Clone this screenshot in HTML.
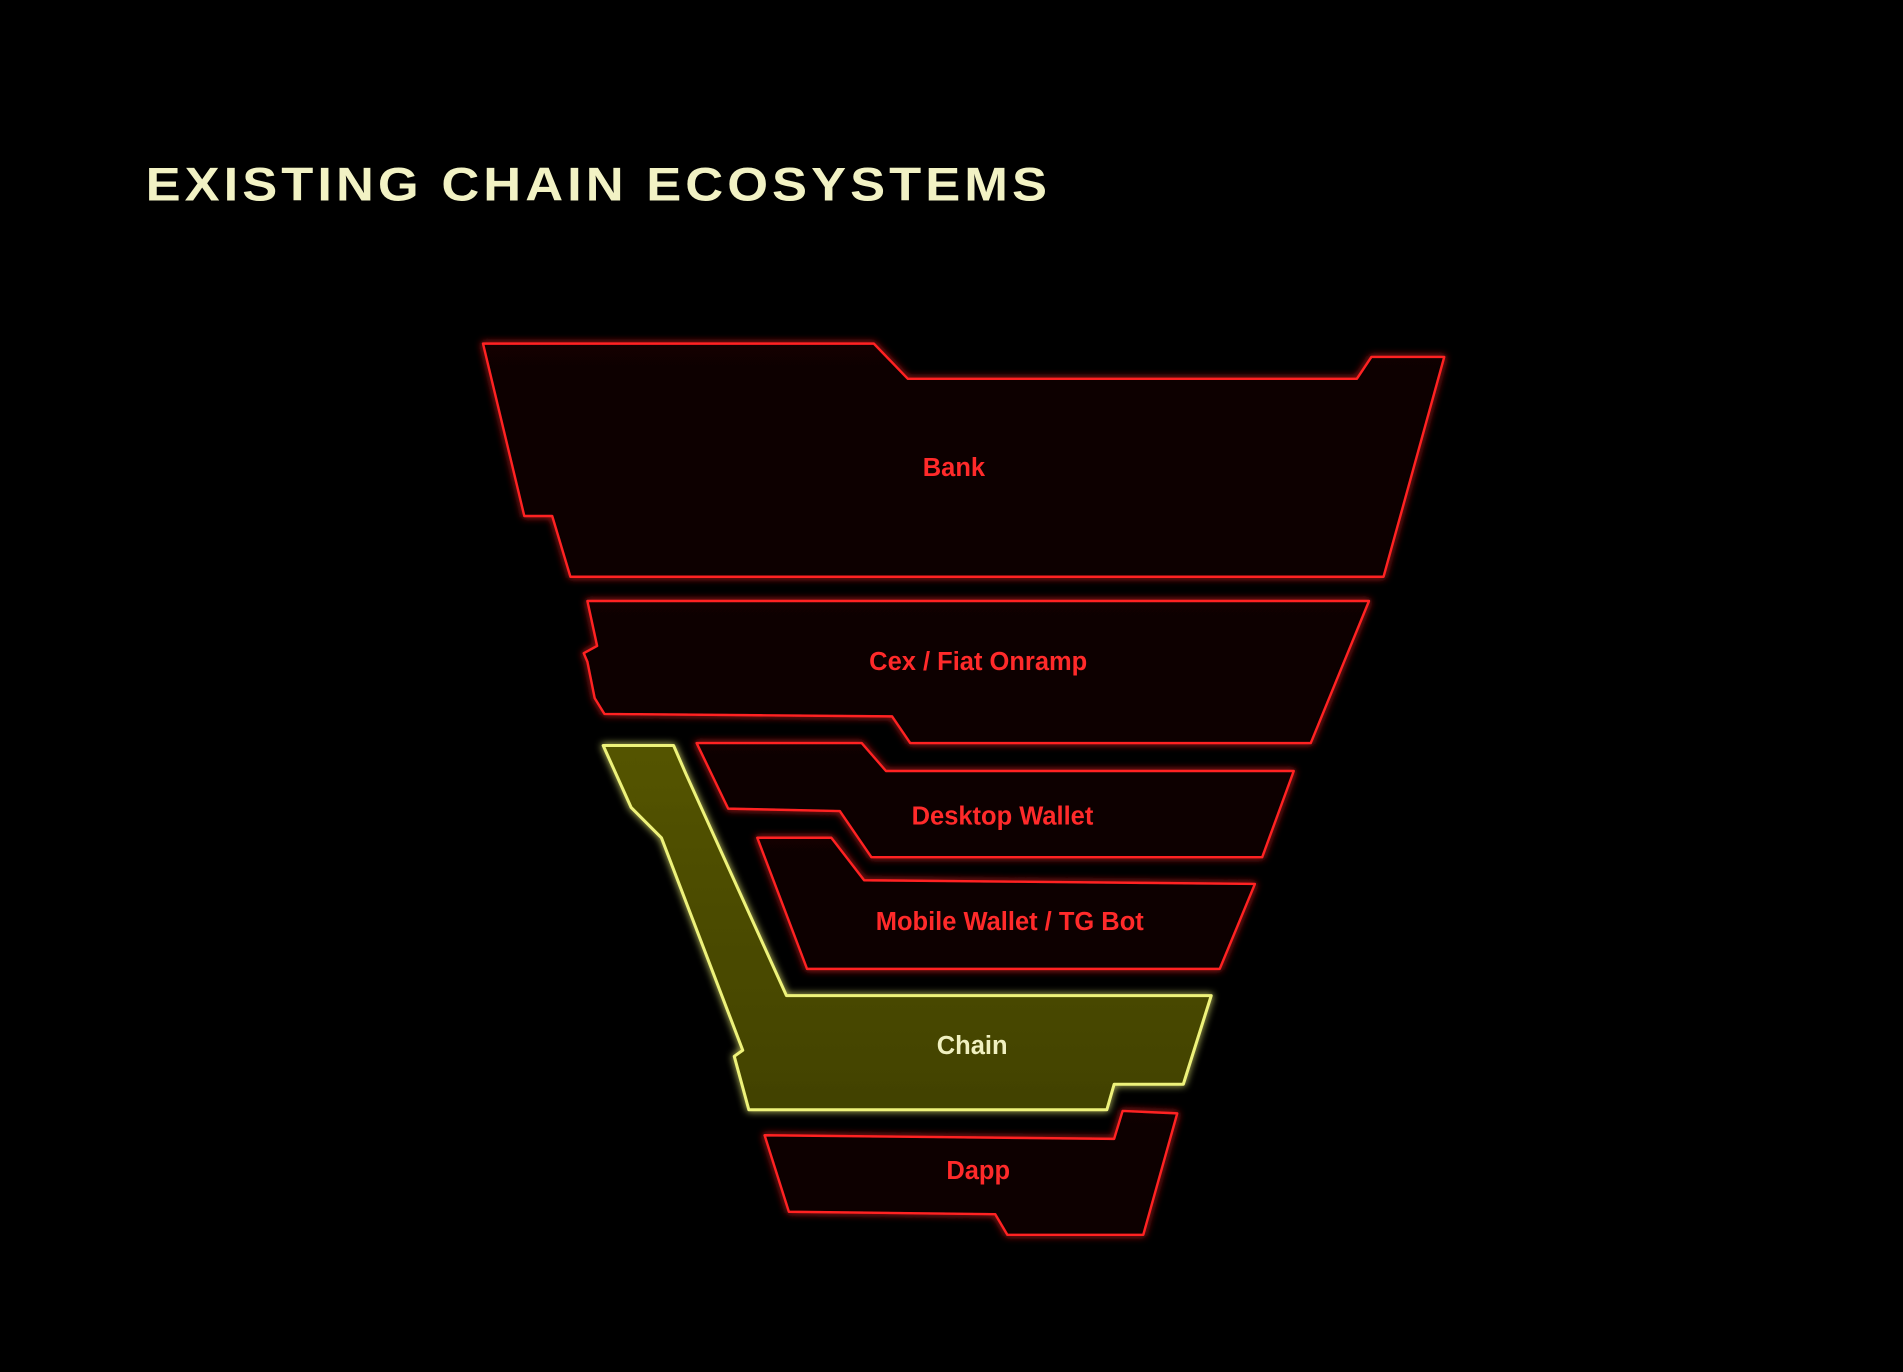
<!DOCTYPE html>
<html><head><meta charset="utf-8"><style>
html,body{margin:0;padding:0;background:#000;}
svg{display:block;}
</style></head><body>
<svg width="1903" height="1372" viewBox="0 0 1568 1130" preserveAspectRatio="none" xmlns="http://www.w3.org/2000/svg">
<defs>
<filter id="g" x="-20%" y="-20%" width="140%" height="140%">
<feGaussianBlur stdDeviation="3" result="b"/>
<feMerge><feMergeNode in="b"/><feMergeNode in="SourceGraphic"/></feMerge>
</filter>
<linearGradient id="rf" x1="0" y1="0" x2="0" y2="1">
<stop offset="0" stop-color="#120304"/><stop offset="1" stop-color="#080102"/>
</linearGradient>
<linearGradient id="yf" x1="0" y1="0" x2="0" y2="1">
<stop offset="0" stop-color="#545403"/><stop offset="1" stop-color="#424200"/>
</linearGradient>
</defs>
<rect width="1568" height="1130" fill="#000"/>
<text x="120" y="165" font-family="Liberation Sans, sans-serif" font-weight="bold" font-size="39" fill="#f2f2c4" letter-spacing="3" textLength="746" lengthAdjust="spacingAndGlyphs">EXISTING CHAIN ECOSYSTEMS</text>
<g fill="url(#rf)" stroke="#ff2222" stroke-width="2" stroke-linejoin="round" filter="url(#g)">
<path d="M398,283 L720,283 L748,312 L1118,312 L1130,294 L1190,294 L1140,475 L470,475 L455,425 L432,425 Z"/>
<path d="M484,495 L1128,495 L1080,612 L750,612 L735,590 L498,588 L490,575 L484,545 L481,538 L492,532 Z"/>
<path d="M574,612 L710,612 L730,635 L1066,635 L1040,706 L718,706 L692,668 L600,666 Z"/>
<path d="M624,690 L685,690 L712,725 L1034,728 L1005,798 L665,798 Z"/>
<path d="M630,935 L918,938 L925,915 L970,917 L942,1017 L830,1017 L820,1000 L650,998 Z"/>
</g>
<path d="M497,614 L555,614 L565,637 L648,820 L998,820 L975,893 L918,893 L912,914 L617,914 L605,870 L612,865 L545,690 L520,665 Z" fill="url(#yf)" stroke="#eef27a" stroke-width="2.5" stroke-linejoin="round" filter="url(#g)"/>
<g font-family="Liberation Sans, sans-serif" font-size="21" font-weight="bold" text-anchor="middle" fill="#ff2a2a">
<text x="786" y="392">Bank</text>
<text x="806" y="552">Cex / Fiat Onramp</text>
<text x="826" y="679">Desktop Wallet</text>
<text x="832" y="766">Mobile Wallet / TG Bot</text>
<text x="801" y="868" fill="#f0f0c0">Chain</text>
<text x="806" y="971">Dapp</text>
</g>
</svg>
</body></html>
